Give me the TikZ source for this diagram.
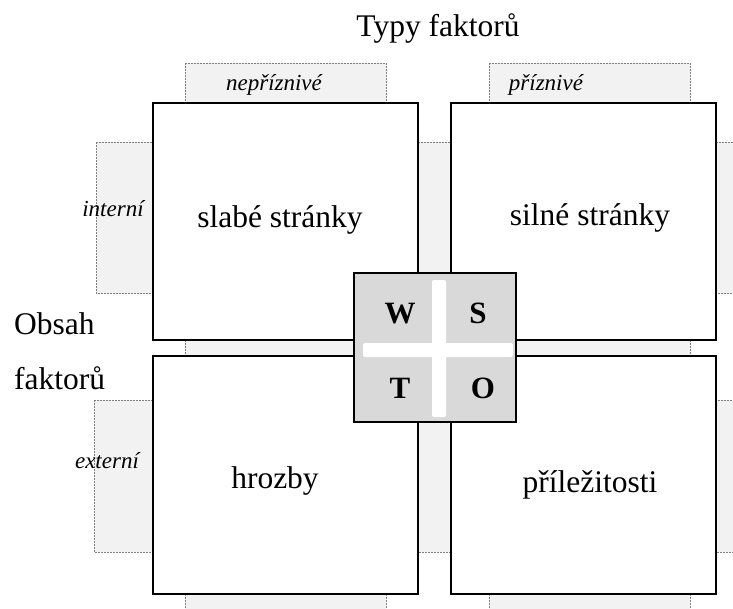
\documentclass[tikz,border=0pt]{standalone}
\usepackage{fontspec}
\setmainfont{Liberation Serif}
\definecolor{tabfill}{HTML}{F2F2F2}
\definecolor{tabline}{HTML}{7F7F7F}
\definecolor{centerfill}{HTML}{D9D9D9}
\tikzset{
  tabbox/.style={fill=tabfill, draw=tabline, line width=0.6pt, dash pattern=on 2pt off 1pt},
  quadbox/.style={draw=black, fill=white, line width=1.8pt},
  bigtext/.style={font=\fontsize{31.5}{38}\selectfont, inner sep=0pt, anchor=base},
  smalltext/.style={font=\fontsize{23}{28}\selectfont\itshape, inner sep=0pt, anchor=base},
  lettertext/.style={font=\fontsize{31}{38}\selectfont\bfseries, inner sep=0pt, anchor=base},
  crossbar/.style={fill=white, draw=none, rounded corners=2pt}
}
\begin{document}
\begin{tikzpicture}[x=1pt, y=-1pt]
\useasboundingbox (0,0) rectangle (733,608);
\clip (0,0) rectangle (733,608);
% tabs of top-left quadrant
\draw[tabbox] (185,63) rectangle (386,103);
\draw[tabbox] (96,142) rectangle (153,293);
\draw[tabbox] (418,142) rectangle (475,293);
\draw[tabbox] (185,340) rectangle (386,380);
% tabs of top-right quadrant
\draw[tabbox] (489,63) rectangle (690,103);
\draw[tabbox] (394,142) rectangle (451,293);
\draw[tabbox] (716,142) rectangle (773,293);
\draw[tabbox] (489,340) rectangle (690,380);
% tabs of bottom-left quadrant
\draw[tabbox] (185,316) rectangle (386,356);
\draw[tabbox] (94,400) rectangle (153,552);
\draw[tabbox] (418,400) rectangle (475,552);
\draw[tabbox] (185,594) rectangle (386,634);
% tabs of bottom-right quadrant
\draw[tabbox] (489,316) rectangle (690,356);
\draw[tabbox] (394,400) rectangle (451,552);
\draw[tabbox] (716,400) rectangle (773,552);
\draw[tabbox] (489,594) rectangle (690,634);
% tab labels
\node[smalltext] (nep) at (274,90) {nepříznivé};
\node[smalltext] (pri) at (546,90) {příznivé};
\node[smalltext] (int) at (113,216) {interní};
\node[smalltext] (ext) at (107,468) {externí};
% quadrants
\draw[quadbox] (153,103) rectangle (418,340);
\draw[quadbox] (451,103) rectangle (716,340);
\draw[quadbox] (153,356) rectangle (418,594);
\draw[quadbox] (451,356) rectangle (716,594);
\node[bigtext] (weak) at (280,227) {slabé stránky};
\node[bigtext] (strong) at (590,225) {silné stránky};
\node[bigtext] (threat) at (275,488) {hrozby};
\node[bigtext] (opp) at (590,492) {příležitosti};
% titles
\node[bigtext] (types) at (438,36) {Typy faktorů};
\node[bigtext, anchor=base west] (obsah) at (14,334) {Obsah};
\node[bigtext, anchor=base west] (fakt) at (14,389) {faktorů};
% center SWOT box
\draw[draw=black, fill=centerfill, line width=1.3pt] (354,273) rectangle (516,422);
\fill[crossbar] (432,280) rectangle (446,417);
\fill[crossbar] (363,343) rectangle (513,357);
\node[lettertext] (W) at (400,323) {W};
\node[lettertext] (S) at (478,323) {S};
\node[lettertext] (T) at (400,398) {T};
\node[lettertext] (O) at (483,398) {O};
\end{tikzpicture}
\end{document}
